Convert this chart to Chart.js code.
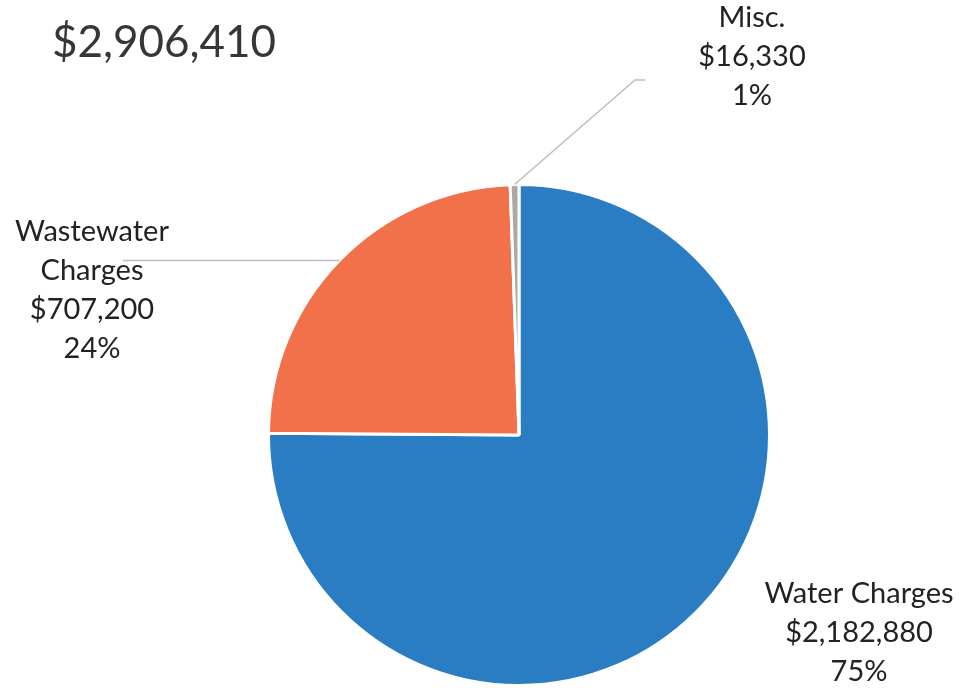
<!DOCTYPE html>
<html>
<head>
<meta charset="utf-8">
<script src="https://cdn.jsdelivr.net/npm/chart.js@4/dist/chart.umd.min.js"></script>
<style>
  html, body { margin: 0; padding: 0; background: #ffffff; }
  #wrap { position: relative; width: 962px; height: 688px; }
  canvas { display: block; }
</style>
</head>
<body>
<div id="wrap"><canvas id="c" width="962" height="688"></canvas></div>
<script>
// Revenue sources
const categories = ['Water Charges', 'Wastewater Charges', 'Misc.'];
const amounts = [2182880, 707200, 16330];
const percentLabels = ['75%', '24%', '1%'];
const totalLabel = '$2,906,410';
const sliceColors = ['#2a7cc3', '#f0714a', '#a9a9a9'];

// Label text lines per slice (name may wrap onto two lines)
const nameLines = [['Water Charges'], ['Wastewater', 'Charges'], ['Misc.']];

const fmtMoney = v => '$' + v.toLocaleString('en-US');

// Where each label block sits, and the bend of its leader line
const labelLayout = [
  { x: 859, y: 594, leader: null },
  { x: 92, y: 232, leader: { endX: 123 } },
  { x: 752, y: 18, leader: { bendX: 635, bendY: 80, endX: 645 } }
];

const FONT = 'Lato, "Open Sans", sans-serif';

const labelPlugin = {
  id: 'sliceLabels',
  afterDraw(chart) {
    const ctx = chart.ctx;
    const meta = chart.getDatasetMeta(0);
    ctx.save();

    // Title amount
    ctx.fillStyle = '#363636';
    ctx.font = '44px ' + FONT;
    ctx.textAlign = 'left';
    ctx.textBaseline = 'middle';
    ctx.fillText(totalLabel, 52, 43);

    meta.data.forEach((arc, i) => {
      const p = arc.getProps(['x', 'y', 'startAngle', 'endAngle', 'outerRadius'], true);
      const mid = (p.startAngle + p.endAngle) / 2;
      const ex = p.x + Math.cos(mid) * p.outerRadius;
      const ey = p.y + Math.sin(mid) * p.outerRadius;
      const lay = labelLayout[i];

      // Leader line from the slice edge
      if (lay.leader) {
        ctx.strokeStyle = '#bdbdbd';
        ctx.lineWidth = 1.5;
        ctx.beginPath();
        ctx.moveTo(ex, ey);
        if (lay.leader.bendX !== undefined) {
          ctx.lineTo(lay.leader.bendX, lay.leader.bendY);
          ctx.lineTo(lay.leader.endX, lay.leader.bendY);
        } else {
          ctx.lineTo(lay.leader.endX, ey);
        }
        ctx.stroke();
      }

      // Label text: name, amount, percent
      const lines = [...nameLines[i], fmtMoney(amounts[i]), percentLabels[i]];
      ctx.fillStyle = '#222222';
      ctx.font = '29px ' + FONT;
      ctx.textAlign = 'center';
      ctx.textBaseline = 'middle';
      lines.forEach((t, k) => ctx.fillText(t, lay.x, lay.y + k * 39));
    });
    ctx.restore();
  }
};

new Chart(document.getElementById('c'), {
  type: 'pie',
  data: {
    labels: categories,
    datasets: [{
      data: amounts,
      backgroundColor: sliceColors,
      borderColor: '#ffffff',
      borderWidth: 3
    }]
  },
  options: {
    responsive: false,
    animation: false,
    rotation: 0,
    layout: { padding: { left: 267, right: 191, top: 183, bottom: 1 } },
    plugins: {
      legend: { display: false },
      tooltip: { enabled: false }
    }
  },
  plugins: [labelPlugin]
});
</script>
</body>
</html>
